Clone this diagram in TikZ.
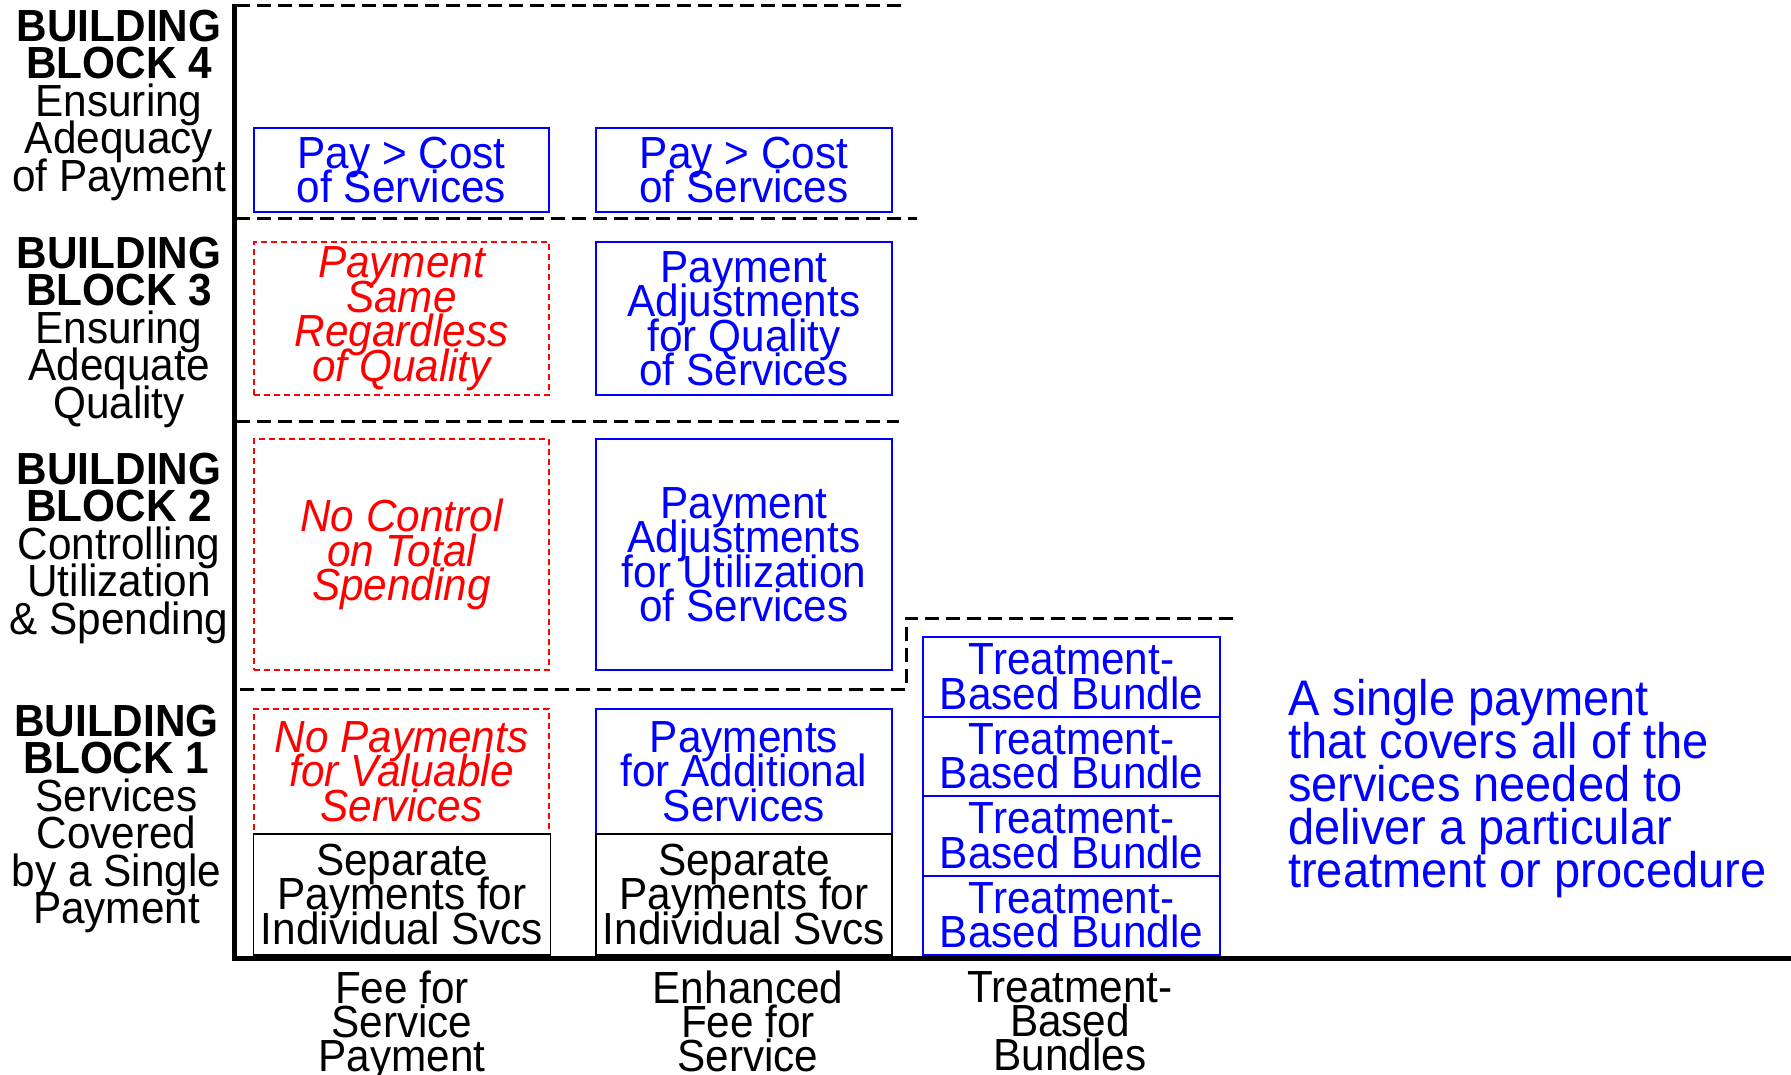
\documentclass[tikz,border=0pt]{standalone}
\usepackage{fontspec}
\setmainfont{Liberation Sans}[FakeStretch=0.94]
\lineskiplimit=-1000pt
\begin{document}
\begin{tikzpicture}[x=1pt,y=-1pt,
  boxtext/.style={font=\fontsize{45}{34.5}\selectfont, align=center, inner sep=0pt, outer sep=0pt},
  bluebox/.style={boxtext, draw=blue, text=blue, line width=2pt},
  redbox/.style={boxtext, draw=red, text=red, line width=1.5pt, dash pattern=on 6pt off 4pt, font=\fontsize{45}{34.5}\selectfont\itshape},
  blackbox/.style={boxtext, draw=black, line width=1.5pt},
  leftlab/.style={font=\fontsize{45}{37.5}\selectfont, align=center, inner sep=0pt},
  axlab/.style={font=\fontsize{45}{34}\selectfont, align=center, inner sep=0pt, anchor=north},
  notelab/.style={font=\fontsize{50}{43}\selectfont, align=left, inner sep=0pt, text=blue, anchor=west},
  axisline/.style={line width=5pt},
  divline/.style={line width=3pt, dash pattern=on 14pt off 7pt}
]
\useasboundingbox (0,0) rectangle (1791,1075);

% axes
\coordinate (ytop) at (234,4);
\coordinate (ybot) at (234,961);
\coordinate (xl) at (232,958);
\coordinate (xr) at (1791,958);
\draw[axisline] (ytop) -- (ybot);
\draw[axisline] (xl) -- (xr);

% dashed dividers
\coordinate (d1a) at (236,6);   \coordinate (d1b) at (902,6);
\coordinate (d2a) at (236,219); \coordinate (d2b) at (917,219);
\coordinate (d3a) at (236,421); \coordinate (d3b) at (899,421);
\coordinate (d4a) at (240,689); \coordinate (d4b) at (906,689);
\coordinate (d4c) at (906,618); \coordinate (d4d) at (1234,618);
\draw[divline] (d1a) -- (d1b);
\draw[divline] (d2a) -- (d2b);
\draw[divline] (d3a) -- (d3b);
\draw[divline] (d4a) -- (d4b) -- (d4c) -- (d4d);

% left labels
\node[leftlab] (bb4) at (119,105) {{\bfseries BUILDING}\\{\bfseries BLOCK 4}\\Ensuring\\Adequacy\\of Payment};
\node[leftlab] (bb3) at (119,332) {{\bfseries BUILDING}\\{\bfseries BLOCK 3}\\Ensuring\\Adequate\\Quality};
\node[leftlab] (bb2) at (119,548) {{\bfseries BUILDING}\\{\bfseries BLOCK 2}\\Controlling\\Utilization\\\& Spending};
\node[leftlab] (bb1) at (116.5,819) {{\bfseries BUILDING}\\{\bfseries BLOCK 1}\\Services\\Covered\\by a Single\\Payment};

% column 1
\node[bluebox, minimum width=295pt, minimum height=84pt] (c1r4) at (401.5,170) {Pay > Cost\\of Services};
\node[redbox, minimum width=295pt, minimum height=153pt] (c1r3) at (401.5,318.5) {Payment\\Same\\Regardless\\of Quality};
\node[redbox, minimum width=295pt, minimum height=231pt] (c1r2) at (401.5,554.5) {No Control\\on Total\\Spending};
\node[redbox, minimum width=295pt, minimum height=125pt] (c1r1u) at (401.5,771.5) {No Payments\\for Valuable\\Services};
\node[blackbox, minimum width=297pt, minimum height=121pt] (c1r1l) at (402,894.5) {Separate\\Payments for\\Individual Svcs};

% column 2
\node[bluebox, minimum width=296pt, minimum height=84pt] (c2r4) at (744,170) {Pay > Cost\\of Services};
\node[bluebox, minimum width=296pt, minimum height=153pt] (c2r3) at (744,318.5) {Payment\\Adjustments\\for Quality\\of Services};
\node[bluebox, minimum width=296pt, minimum height=231pt] (c2r2) at (744,554.5) {Payment\\Adjustments\\for Utilization\\of Services};
\node[bluebox, minimum width=296pt, minimum height=125pt] (c2r1u) at (744,771.5) {Payments\\for Additional\\Services};
\node[blackbox, minimum width=296pt, minimum height=121pt] (c2r1l) at (744,894.5) {Separate\\Payments for\\Individual Svcs};

% column 3 bundles
\node[bluebox, minimum width=297pt, minimum height=79.5pt] (tb1) at (1071.5,676.75) {Treatment-\\Based Bundle};
\node[bluebox, minimum width=297pt, minimum height=79.5pt] (tb2) at (1071.5,756.25) {Treatment-\\Based Bundle};
\node[bluebox, minimum width=297pt, minimum height=79.5pt] (tb3) at (1071.5,835.75) {Treatment-\\Based Bundle};
\node[bluebox, minimum width=297pt, minimum height=79.5pt] (tb4) at (1071.5,915.25) {Treatment-\\Based Bundle};

% note
\node[notelab] (note) at (1288,789) {A single payment\\that covers all of the\\services needed to\\deliver a particular\\treatment or procedure};

% axis labels
\node[axlab] (x1) at (402,971) {Fee for\\Service\\Payment};
\node[axlab] (x2) at (748,971) {Enhanced\\Fee for\\Service};
\node[axlab] (x3) at (1070,971) {Treatment-\\Based\\Bundles};
\end{tikzpicture}
\end{document}
